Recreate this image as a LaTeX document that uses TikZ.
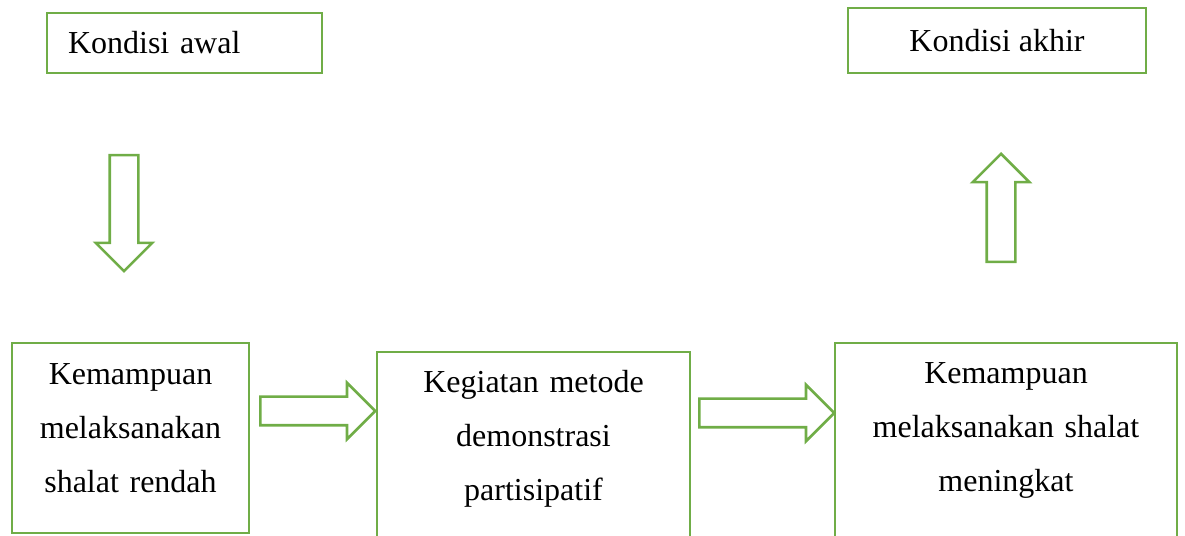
\documentclass[tikz,border=0pt]{standalone}
\usepackage{fontspec}
\setmainfont{Liberation Serif}
\usepackage{tikz}
\usetikzlibrary{shapes.arrows}
\definecolor{hijau}{HTML}{70AD47}

\begin{document}
\begin{tikzpicture}[x=1pt,y=1pt,
	kotak/.style={draw=hijau, line width=2.6pt, font=\fontsize{32}{54}\selectfont},
	panah/.style={single arrow, draw=hijau, line width=2.6pt, inner xsep=0pt, inner ysep=13pt,
		single arrow head extend=14pt, single arrow tip angle=90}]
			\useasboundingbox (0,0) rectangle (1185,535);
			\clip (0,0) rectangle (1185,535);

			\node	(awal) at (184.5,492) [kotak, text width=233pt, inner xsep=21pt, align=left, minimum height=60pt] {Kondisi awal};
			\node	(akhir) at (997,494.5) [kotak, minimum width=298pt, minimum height=65pt] {Kondisi akhir};

			\node	(rendah) at (130.5,150) [kotak, anchor=base, text width=237pt, inner sep=0pt, align=center, text height=42pt, text depth=148pt] {Kemampuan\\ melaksanakan\\ shalat rendah};
			\node	(metode) at (533.5,142) [kotak, anchor=base, text width=313pt, inner sep=0pt, align=center, text height=41pt, text depth=200pt] {Kegiatan metode\\ demonstrasi\\ partisipatif};
			\node	(meningkat) at (1006,151) [kotak, anchor=base, text width=342pt, inner sep=0pt, align=center, text height=41pt, text depth=200pt] {Kemampuan\\ melaksanakan shalat\\ meningkat};

			\node	(turun) at (124,262) [panah, minimum height=116pt, rotate=-90, anchor=tip] {};
			\node	(naik) at (1001,383) [panah, minimum height=108pt, rotate=90, anchor=tip] {};
			\node	(kanan1) at (259,124) [panah, minimum height=115pt, anchor=tail] {};
			\node	(kanan2) at (698,122) [panah, minimum height=135pt, anchor=tail] {};
		\end{tikzpicture}
\end{document}
